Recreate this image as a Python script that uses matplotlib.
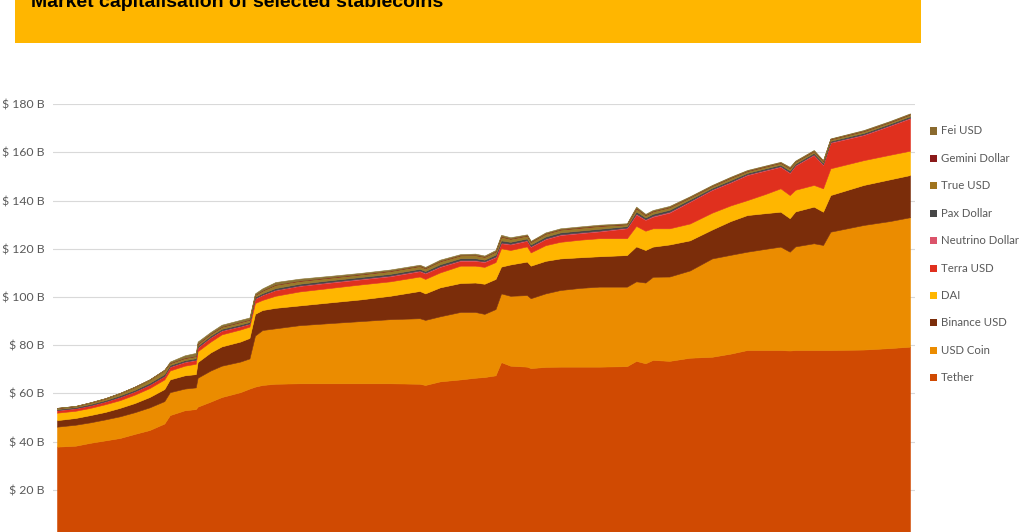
import matplotlib
matplotlib.use("Agg")
import matplotlib.pyplot as plt
from matplotlib.patches import Rectangle

# day offsets from start of series
days = [0, 10, 18, 26, 34, 42, 50, 58, 61, 69, 75, 76, 83, 89, 99, 104, 107, 111, 118, 131,
        148, 164, 180, 196, 199, 207, 218, 226, 231, 237, 240, 245, 254, 256, 264, 272, 283, 293, 308, 313,
        318, 322, 331, 342, 354, 364, 373, 383, 391, 396, 399, 409, 414, 418, 436, 450, 461]

tether = [37.9, 38.3, 39.5, 40.5, 41.5, 43.2, 44.8, 47.5, 51.0, 53.0, 53.5, 54.5, 56.6, 58.5, 60.5, 62.0, 62.8, 63.5, 64.0, 64.2,
          64.2, 64.2, 64.2, 64.0, 63.5, 65.0, 65.8, 66.5, 66.8, 67.5, 73.0, 71.5, 71.1, 70.5, 71.0, 71.1, 71.1, 71.1, 71.3, 73.5,
          72.5, 73.9, 73.5, 74.8, 75.2, 76.5, 78.0, 78.0, 78.0, 77.8, 78.0, 78.0, 78.0, 78.0, 78.2, 78.8, 79.4]
usd_coin = [8.3, 8.7, 8.5, 8.7, 9.0, 9.0, 9.4, 9.3, 9.5, 9.0, 9.0, 12.0, 12.9, 13.0, 12.7, 12.5, 21.2, 22.8, 23.0, 24.1,
            25.0, 25.8, 26.6, 27.2, 27.0, 27.0, 28.0, 27.3, 26.2, 27.5, 28.5, 29.0, 29.7, 29.0, 30.5, 31.8, 32.7, 33.2, 33.0, 33.0,
            33.5, 34.5, 35.0, 36.2, 40.8, 41.0, 40.8, 42.0, 42.9, 41.0, 43.0, 44.3, 43.6, 49.1, 51.7, 52.7, 53.7]
binance_usd = [2.7, 2.8, 3.0, 3.1, 3.5, 3.8, 4.3, 5.0, 5.3, 5.5, 5.5, 6.5, 7.5, 8.0, 8.3, 8.5, 9.0, 8.3, 8.5, 8.2,
               8.6, 9.0, 9.7, 11.3, 11.0, 12.0, 12.0, 12.2, 12.5, 12.5, 11.1, 13.0, 13.9, 13.5, 13.5, 13.1, 12.7, 12.6, 13.1, 14.5,
               13.5, 12.5, 13.3, 12.5, 12.0, 14.0, 15.2, 14.8, 14.5, 13.9, 14.5, 15.2, 13.8, 15.2, 16.6, 17.3, 17.5]
dai = [3.1, 3.0, 3.0, 3.2, 3.2, 3.5, 3.7, 4.0, 3.7, 4.0, 4.3, 4.5, 4.5, 5.0, 5.0, 4.7, 4.5, 4.2, 5.0, 5.8,
       6.0, 6.2, 6.0, 6.0, 6.0, 6.2, 7.2, 7.0, 7.0, 7.0, 7.6, 6.0, 6.3, 5.5, 6.5, 6.9, 7.3, 7.5, 7.0, 8.5,
       8.0, 7.6, 6.7, 7.0, 7.0, 6.5, 6.2, 8.0, 9.7, 9.6, 9.0, 9.0, 9.7, 11.1, 10.3, 10.2, 10.1]
terra_usd = [1.0, 1.0, 1.0, 1.1, 1.3, 1.3, 1.4, 1.4, 1.5, 1.5, 1.5, 1.5, 1.7, 1.5, 1.3, 1.1, 1.8, 2.0, 2.3, 2.3,
             2.2, 2.1, 2.1, 2.2, 2.3, 2.3, 2.0, 2.0, 2.0, 2.0, 2.1, 2.3, 2.3, 2.3, 2.5, 2.8, 2.7, 2.8, 4.1, 4.7,
             4.5, 4.8, 6.5, 9.0, 9.4, 9.5, 10.4, 9.7, 8.9, 9.2, 10.0, 12.4, 9.7, 10.6, 10.4, 12.0, 13.4]
neutrino_dollar = [0.1, 0.1, 0.1, 0.1, 0.1, 0.1, 0.1, 0.1, 0.2, 0.2, 0.2, 0.2, 0.2, 0.2, 0.2, 0.2, 0.2, 0.2, 0.2, 0.2,
                   0.3, 0.3, 0.3, 0.3, 0.3, 0.3, 0.3, 0.3, 0.3, 0.3, 0.3, 0.3, 0.3, 0.3, 0.3, 0.3, 0.3, 0.3, 0.3, 0.4,
                   0.3, 0.4, 0.4, 0.3, 0.3, 0.3, 0.3, 0.3, 0.3, 0.3, 0.3, 0.3, 0.3, 0.3, 0.3, 0.3, 0.3]
pax_dollar = [0.4, 0.4, 0.5, 0.5, 0.6, 0.6, 0.7, 0.7, 0.6, 0.6, 0.6, 0.6, 0.6, 0.6, 0.6, 0.6, 0.6, 0.6, 0.7, 0.7,
              0.7, 0.7, 0.7, 0.7, 0.7, 0.8, 0.8, 0.8, 0.7, 0.8, 0.9, 0.8, 0.7, 0.7, 0.8, 0.8, 0.8, 0.8, 0.6, 0.9,
              0.7, 0.8, 0.8, 0.7, 0.6, 0.7, 0.6, 0.6, 0.6, 0.7, 0.6, 0.6, 0.6, 0.5, 0.6, 0.6, 0.6]
true_usd = [0.4, 0.4, 0.6, 0.7, 0.9, 1.2, 1.3, 1.7, 0.8, 0.9, 0.9, 0.8, 0.8, 0.9, 1.0, 1.0, 0.8, 1.1, 1.4, 1.2,
            1.1, 1.1, 1.2, 1.2, 1.2, 1.3, 1.2, 1.3, 1.2, 1.3, 1.6, 1.3, 1.2, 1.1, 1.2, 1.2, 1.2, 1.2, 0.8, 1.4,
            1.0, 1.1, 1.1, 0.9, 0.8, 1.0, 0.8, 0.8, 0.8, 1.0, 0.8, 0.8, 0.7, 0.7, 0.8, 0.7, 0.8]
gemini_dollar = [0.1] * 57
fei_usd = [0.0, 0.0, 0.0, 0.0, 0.0, 0.0, 0.0, 0.0, 0.5, 1.0, 1.2, 0.8, 0.6, 0.7, 0.8, 0.8, 0.5, 0.8, 1.0, 0.8,
           0.6, 0.5, 0.5, 0.4, 0.4, 0.5, 0.4, 0.5, 0.4, 0.5, 0.6, 0.5, 0.4, 0.3, 0.4, 0.4, 0.4, 0.4, 0.3, 0.5,
           0.4, 0.4, 0.4, 0.3, 0.3, 0.3, 0.3, 0.3, 0.3, 0.4, 0.3, 0.3, 0.3, 0.2, 0.3, 0.3, 0.3]

series_names = ["Tether", "USD Coin", "Binance USD", "DAI", "Terra USD", "Neutrino Dollar",
                "Pax Dollar", "True USD", "Gemini Dollar", "Fei USD"]
series_colors = ["#D04A02", "#EB8C00", "#7B2D0A", "#FFB600", "#E0301E", "#DB536A",
                 "#464646", "#9A7A2A", "#8B1A1A", "#8A7436"]
y_ticks = [0, 20, 40, 60, 80, 100, 120, 140, 160, 180]
title = "Market capitalisation of selected stablecoins"

W, H = 1024, 532
fig = plt.figure(figsize=(W / 100, H / 100), dpi=100)

# banner
fig.patches.append(Rectangle((15 / W, 1 - 43 / H), 906 / W, 43 / H + 0.01,
                             transform=fig.transFigure, facecolor="#FFB600", edgecolor="none", zorder=0))
fig.text(31 / W, 1 - 7 / H, title, fontsize=14, fontweight="bold", color="#000000",
         family="Liberation Sans", va="baseline", ha="left")

# axes: y=0 at pixel 538, y=180 at pixel 104.2
ax_left, ax_right = 53, 915
y0_px, y180_px = 538, 104.2
ax = fig.add_axes([ax_left / W, (H - y0_px) / H, (ax_right - ax_left) / W, (y0_px - y180_px) / H])

data = [tether, usd_coin, binance_usd, dai, terra_usd, neutrino_dollar, pax_dollar,
        true_usd, gemini_dollar, fei_usd]
polys = ax.stackplot(days, data, colors=series_colors, labels=series_names,
                     linewidth=0.4, zorder=2)
for p, c in zip(polys, series_colors):
    p.set_edgecolor(c)

px_per_day = (910 - 57) / (days[-1] - days[0])
ax.set_xlim(days[0] - (57 - ax_left) / px_per_day, days[-1] + (ax_right - 910) / px_per_day)
ax.set_ylim(0, 180)
ax.set_yticks(y_ticks)
ax.set_yticklabels([f"$ {v} B" for v in y_ticks])
ax.tick_params(axis="y", length=0, pad=6, labelsize=8.8, labelcolor="#595959")
ax.tick_params(axis="x", length=0, labelbottom=False)
for lab in ax.get_yticklabels():
    lab.set_family("Lato")
ax.grid(axis="y", color="#D9D9D9", linewidth=0.8, zorder=0)
ax.set_axisbelow(True)
for s in ax.spines.values():
    s.set_visible(False)

# legend (top to bottom: reverse stacking order)
leg_y0, leg_step = 131, 27.4
legend_colors = ["#8A6A2E", "#8B1A1A", "#A0741E", "#464646", "#DB536A",
                 "#E0301E", "#FFB600", "#7B2D0A", "#EB8C00", "#D04A02"]
for i, (name, col) in enumerate(zip(series_names[::-1], legend_colors)):
    yc = leg_y0 + i * leg_step
    fig.patches.append(Rectangle((930 / W, 1 - (yc + 3.5) / H), 7 / W, 7 / H,
                                 transform=fig.transFigure, facecolor=col, edgecolor="none"))
    fig.text(941 / W, 1 - yc / H, name, fontsize=8.2, color="#595959", family="Lato",
             va="center", ha="left")

fig.savefig("out.png", dpi=100)
